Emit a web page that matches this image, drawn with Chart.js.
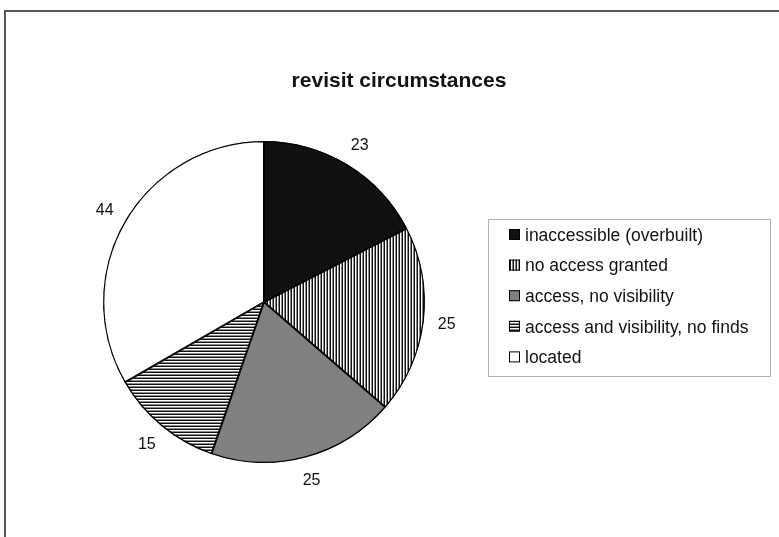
<!DOCTYPE html>
<html>
<head>
<meta charset="utf-8">
<script src="https://cdn.jsdelivr.net/npm/chart.js@4.4.0/dist/chart.umd.min.js"></script>
<style>
  html, body { margin: 0; padding: 0; background: #fff; }
  #wrap { width: 779px; height: 537px; }
</style>
</head>
<body>
<div id="wrap"><canvas id="pie" width="779" height="537"></canvas></div>
<script>
// ===== data =====
const titleText = 'revisit circumstances';
const categories = [
  'inaccessible (overbuilt)',
  'no access granted',
  'access, no visibility',
  'access and visibility, no finds',
  'located',
];
const counts = [23, 25, 25, 15, 44];

const FONT = '"Liberation Sans", Arial, sans-serif';

// fill patterns, imitating the old Excel hatch fills
function stripePattern(vertical) {
  const c = document.createElement('canvas');
  c.width = 3; c.height = 3;
  const g = c.getContext('2d');
  const cols = ['#111', '#fff', '#8a8a8a'];
  cols.forEach((col, i) => {
    g.fillStyle = col;
    if (vertical) g.fillRect(i, 0, 1, 3);
    else g.fillRect(0, i, 3, 1);
  });
  return document.createElement('canvas').getContext('2d').createPattern(c, 'repeat');
}

const fills = [
  '#111111',
  stripePattern(true),
  '#808080',
  stripePattern(false),
  '#ffffff',
];

const decor = {
  id: 'decor',
  afterDraw(chart) {
    const ctx = chart.ctx;
    ctx.save();

    // outer frame (only top and left visible)
    ctx.strokeStyle = '#555';
    ctx.lineWidth = 2;
    ctx.beginPath();
    ctx.moveTo(5, 537);
    ctx.lineTo(5, 11);
    ctx.lineTo(779, 11);
    ctx.stroke();

    // title
    ctx.fillStyle = '#111';
    ctx.font = 'bold 21px ' + FONT;
    ctx.textAlign = 'center';
    ctx.textBaseline = 'middle';
    ctx.fillText(titleText, 399, 81);

    // value labels outside the slices
    ctx.font = '16px ' + FONT;
    const meta = chart.getDatasetMeta(0);
    meta.data.forEach((arc, i) => {
      const p = arc.getProps(['x', 'y', 'startAngle', 'endAngle', 'outerRadius'], true);
      const mid = (p.startAngle + p.endAngle) / 2;
      const d = p.outerRadius + 23;
      ctx.fillText(String(counts[i]), p.x + Math.cos(mid) * d, p.y + Math.sin(mid) * d + 1);
    });

    // legend box
    const lx = 488, ly = 219, lw = 282, lh = 157;
    ctx.strokeStyle = '#b0b0b0';
    ctx.lineWidth = 1;
    ctx.strokeRect(lx + 0.5, ly + 0.5, lw, lh);
    ctx.textAlign = 'left';
    ctx.font = '17.5px ' + FONT;
    categories.forEach((name, i) => {
      const cy = 235 + i * 30.6;
      ctx.fillStyle = fills[i];
      ctx.fillRect(509, cy - 6, 11, 11);
      ctx.strokeStyle = '#000';
      ctx.strokeRect(509.5, cy - 5.5, 10, 10);
      ctx.fillStyle = '#111';
      ctx.fillText(name, 525, cy + 1);
    });

    ctx.restore();
  },
};

new Chart(document.getElementById('pie'), {
  type: 'pie',
  data: {
    labels: categories,
    datasets: [{
      data: counts,
      backgroundColor: fills,
      borderColor: '#000',
      borderWidth: 1,
      borderAlign: 'inner',
    }],
  },
  options: {
    responsive: false,
    animation: false,
    events: [],
    layout: { padding: { left: 103, top: 141, right: 354, bottom: 74 } },
    plugins: {
      legend: { display: false },
      title: { display: false },
      tooltip: { enabled: false },
    },
  },
  plugins: [decor],
});
</script>
</body>
</html>
